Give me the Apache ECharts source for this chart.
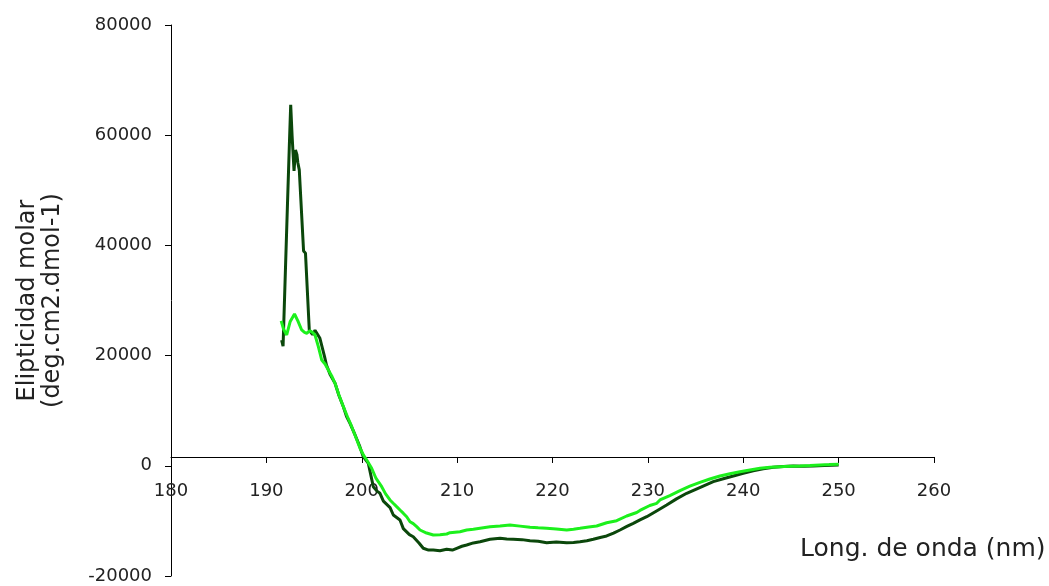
<!DOCTYPE html>
<html>
<head>
<meta charset="utf-8">
<script src="https://cdn.jsdelivr.net/npm/echarts@6/dist/echarts.min.js"></script>
<style>
  html, body { margin: 0; padding: 0; background: #fff; }
  #chart { width: 1049px; height: 586px; }
</style>
</head>
<body>
<div id="chart"></div>
<script>
// Circular dichroism spectra: molar ellipticity vs. wavelength
const xTicks = [180, 190, 200, 210, 220, 230, 240, 250, 260];
const yTicks = [-20000, 0, 20000, 40000, 60000, 80000];

// Dark trace
const darkNm = [191.6, 191.75, 192.0, 192.2, 192.4, 192.55, 192.7, 192.9, 193.05, 193.2, 193.3, 193.45, 193.9, 194.1, 194.5, 194.65, 194.85, 195.1, 195.6, 196.1, 196.3, 196.7, 197.2, 197.6, 198.07, 198.4, 198.77, 199.3, 199.8, 200.16, 200.69, 201.21, 201.6, 201.91, 202.27, 202.97, 203.31, 204.01, 204.36, 205.0, 205.4, 206.0, 206.45, 207.0, 207.5, 208.2, 208.9, 209.5, 209.96, 210.5, 211.0, 211.7, 212.4, 213.45, 214.5, 215.2, 215.89, 216.8, 217.64, 218.5, 219.39, 220.4, 221.49, 222.2, 222.88, 223.6, 224.28, 225.0, 225.68, 226.4, 227.08, 227.8, 228.47, 229.17, 229.88, 231.0, 231.97, 233.0, 234.07, 235.5, 236.86, 238.0, 238.96, 240.0, 241.05, 242.1, 243.15, 244.2, 245.25, 246.3, 247.35, 248.5, 250.0];
const darkVal = [22800, 21700, 35700, 46800, 57700, 65500, 59800, 53500, 57300, 56500, 55000, 53700, 39000, 38600, 24600, 24300, 23800, 24600, 23200, 19800, 18300, 16500, 14970, 12800, 10730, 9000, 7710, 5600, 3470, 1650, 450, -3790, -4600, -4990, -6400, -7600, -8930, -9830, -11400, -12500, -12870, -14000, -14970, -15300, -15280, -15410, -15150, -15300, -14970, -14600, -14370, -14000, -13770, -13340, -13160, -13300, -13340, -13400, -13590, -13700, -13950, -13850, -13950, -13900, -13770, -13600, -13340, -13000, -12740, -12200, -11650, -11000, -10440, -9830, -9240, -8100, -7110, -6000, -4990, -3900, -2880, -2300, -1850, -1350, -890, -550, -270, -130, -30, -60, -30, 60, 150];

// Bright trace
const lightNm = [191.55, 191.8, 192.13, 192.5, 192.95, 193.3, 193.7, 194.0, 194.23, 194.57, 194.85, 195.1, 195.45, 195.8, 196.15, 196.5, 196.85, 197.2, 197.6, 198.07, 198.5, 198.95, 199.4, 199.82, 200.2, 200.52, 201.04, 201.5, 202.09, 202.5, 202.96, 203.3, 203.66, 204.01, 204.35, 204.71, 205.06, 205.4, 205.76, 206.11, 206.8, 207.5, 208.2, 208.91, 209.25, 210.3, 211.0, 211.7, 212.75, 213.45, 214.5, 215.54, 216.6, 217.64, 218.5, 219.39, 220.4, 221.49, 222.2, 222.88, 223.8, 224.63, 225.68, 226.73, 227.78, 228.83, 229.17, 230.2, 230.93, 231.27, 232.3, 233.37, 234.4, 235.46, 236.5, 237.56, 238.6, 239.66, 240.7, 241.76, 242.8, 243.85, 244.9, 245.95, 247.0, 248.05, 249.0, 250.0];
const lightVal = [26300, 24800, 23740, 26200, 27550, 26300, 24650, 24200, 24050, 24520, 24200, 23740, 21620, 19200, 18480, 17390, 16300, 14970, 12900, 10730, 8900, 7100, 5100, 3180, 1900, 1050, -450, -2300, -3790, -5100, -6200, -6800, -7420, -8020, -8600, -9240, -10150, -10500, -11050, -11650, -12200, -12560, -12500, -12380, -12140, -11960, -11650, -11520, -11230, -11050, -10930, -10740, -10950, -11160, -11250, -11340, -11450, -11650, -11500, -11340, -11100, -10930, -10330, -9960, -9110, -8480, -8100, -7200, -6810, -6200, -5400, -4500, -3700, -3000, -2400, -1850, -1450, -1070, -750, -450, -280, -160, -90, -40, 50, 150, 220, 300];

// The horizontal axis crosses the vertical axis at this ellipticity value
const xAxisCross = 1600;

const yMin = yTicks[0], yMax = yTicks[yTicks.length - 1];
const pairs = (xs, ys) => xs.map((x, i) => [x, ys[i]]);
const FONT = 'DejaVu Sans';
const plain = v => String(v);

const chart = echarts.init(document.getElementById('chart'), null, { renderer: 'canvas' });
chart.setOption({
  animation: false,
  backgroundColor: '#ffffff',
  grid: { left: 171, right: 115, top: 25, bottom: 10, containLabel: false, outerBoundsMode: 'none' },
  xAxis: {
    type: 'value',
    position: 'bottom',
    min: xTicks[0], max: xTicks[xTicks.length - 1], interval: 10,
    axisLine: { show: true, onZero: false, lineStyle: { color: '#000', width: 1 } },
    axisTick: { show: true, inside: false, length: 6, lineStyle: { color: '#000' } },
    axisLabel: { show: true, margin: 25, color: '#222', fontFamily: FONT, fontSize: 18, formatter: plain },
    splitLine: { show: false }
  },
  yAxis: {
    type: 'value',
    min: yMin, max: yMax, interval: 20000,
    position: 'left',
    axisLine: { show: true, onZero: false, lineStyle: { color: '#000', width: 1 } },
    axisTick: { show: true, inside: false, length: 6, lineStyle: { color: '#000' } },
    axisLabel: { margin: 19, color: '#222', fontFamily: FONT, fontSize: 18, formatter: plain },
    splitLine: { show: false },
    name: 'Elipticidad molar\n(deg.cm2.dmol-1)',
    nameLocation: 'middle',
    nameRotate: 90,
    nameGap: 106,
    nameTextStyle: { color: '#222', fontFamily: FONT, fontSize: 24, lineHeight: 25, align: 'center' }
  },
  graphic: [
    {
      type: 'text',
      left: 800, top: 537,
      style: { text: 'Long. de onda (nm)', fill: '#222', font: '25px "DejaVu Sans"' }
    }
  ],
  series: [
    {
      type: 'line', showSymbol: false, smooth: false,
      data: pairs(darkNm, darkVal),
      lineStyle: { color: '#0b470b', width: 3 }, z: 2
    },
    {
      type: 'line', showSymbol: false, smooth: false,
      data: pairs(lightNm, lightVal),
      lineStyle: { color: '#1cf01c', width: 3 }, z: 3
    }
  ]
});

// Lift the wavelength axis (line, ticks and labels) up to where it crosses the ellipticity axis
const gridBottomPx = chart.convertToPixel({ yAxisIndex: 0 }, yMin);
const crossPx = chart.convertToPixel({ yAxisIndex: 0 }, xAxisCross);
chart.setOption({ xAxis: { offset: -(gridBottomPx - crossPx) } });
</script>
</body>
</html>
